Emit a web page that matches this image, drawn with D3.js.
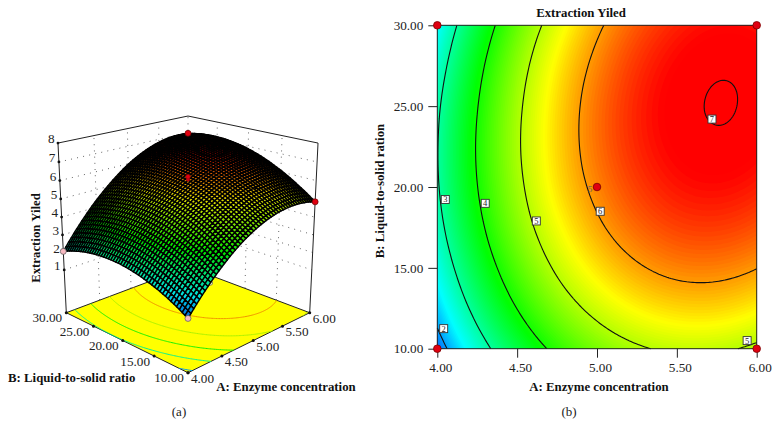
<!DOCTYPE html>
<html><head><meta charset="utf-8">
<script src="https://cdn.jsdelivr.net/npm/d3@7/dist/d3.min.js"></script>
<style>html,body{margin:0;padding:0;background:#fff}svg{display:block}
text{font-family:"Liberation Serif",serif;fill:#222}
.b{font-weight:bold;fill:#111}</style></head><body>
<svg id="c" width="777" height="438" viewBox="0 0 777 438"></svg>
<script>
// Levels of the two factors, and the response.
const enzymeLevels=[4,4.25,4.5,4.75,5,5.25,5.5,5.75,6];
const ratioLevels=[10,12.5,15,17.5,20,22.5,25,27.5,30];
const yieldAtRatio10=[1.75,2.71,3.51,4.15,4.62,4.93,5.08,5.07,4.90];
const yieldAtRatio12=[2.21,3.19,4.01,4.67,5.16,5.49,5.66,5.67,5.51];
const yieldAtRatio15=[2.56,3.56,4.40,5.08,5.59,5.94,6.13,6.15,6.01];
const yieldAtRatio17=[2.81,3.83,4.69,5.38,5.91,6.28,6.49,6.53,6.41];
const yieldAtRatio20=[2.95,3.99,4.86,5.58,6.12,6.51,6.74,6.80,6.70];
const yieldAtRatio22=[2.98,4.04,4.93,5.66,6.23,6.64,6.88,6.96,6.88];
const yieldAtRatio25=[2.91,3.98,4.89,5.64,6.23,6.66,6.92,7.012,6.95];
const yieldAtRatio27=[2.72,3.82,4.75,5.52,6.12,6.57,6.85,6.97,6.92];
const yieldAtRatio30=[2.43,3.55,4.50,5.28,5.91,6.37,6.67,6.81,6.78];
const enzymeTicks=[4,4.5,5,5.5,6];
const ratioTicks=[10,15,20,25,30];
const yieldTicks=[1,2,3,4,5,6,7,8];
const contourLevels=[2,3,4,5,6,7];
// design points: A, B, yield
const designA=[4,6,4,6,5];
const designB=[30,30,10,10,20];
const designY=[2.43,6.79,1.75,4.90,6.12];
// contour-label boxes: level, A, B
const labelLevels=[2,3,4,5,6,7,5];
const labelA=[4.04,4.05,4.30,4.62,5.02,5.72,5.94];
const labelB=[11.24,19.23,18.99,17.9,18.5,24.2,10.5];

const yieldRows=[yieldAtRatio10,yieldAtRatio12,yieldAtRatio15,yieldAtRatio17,yieldAtRatio20,yieldAtRatio22,yieldAtRatio25,yieldAtRatio27,yieldAtRatio30];
const svg=d3.select('#c');
const color=d3.scaleLinear().domain([1.7,2.45,3.9,5.45,6.85]).range(['#0060ff','#00ffff','#00ff00','#ffff00','#ff0000']).clamp(true);

// Smooth display resampling of the read grid (Catmull-Rom between the read values)
function cr(p0,p1,p2,p3,t){return .5*(2*p1+(p2-p0)*t+(2*p0-5*p1+4*p2-p3)*t*t+(3*p1-p0-3*p2+p3)*t*t*t);}
function at(arr,i){const n=arr.length;if(i<0)return 3*arr[0]-3*arr[1]+arr[2];if(i>=n)return 3*arr[n-1]-3*arr[n-2]+arr[n-3];return arr[i];}
function sample1(arr,f){let i=Math.min(Math.floor(f),arr.length-2);return cr(at(arr,i-1),at(arr,i),at(arr,i+1),at(arr,i+2),f-i);}
function field(u,v){ // u,v in 0..1
  const fu=u*(enzymeLevels.length-1),fv=v*(ratioLevels.length-1);
  return sample1(yieldRows.map(r=>sample1(r,fu)),fv);
}
const N=161;const vals=new Float64Array(N*N);
for(let j=0;j<N;j++)for(let i=0;i<N;i++)vals[j*N+i]=field(i/(N-1),j/(N-1));
const contourGen=d3.contours().size([N,N]);
const gu=p=>Math.max(0,Math.min(1,(p-.5)/(N-1)));
function ringPaths(level,fn){ // open lines inside the domain, without border runs
  const gm=contourGen.contour(vals,level);let d='';
  gm.coordinates.forEach(poly=>poly.forEach(ring=>{
    let pen=false;
    const onB=p=>p[0]<=0||p[0]>=N||p[1]<=0||p[1]>=N;
    for(let k=0;k<ring.length-1;k++){
      const a=ring[k],b=ring[k+1];
      if(onB(a)||onB(b)){pen=false;continue;}
      const pa=fn(gu(a[0]),gu(a[1])),pb=fn(gu(b[0]),gu(b[1]));
      if(!pen){d+='M'+pa[0].toFixed(2)+','+pa[1].toFixed(2);pen=true;}
      d+='L'+pb[0].toFixed(2)+','+pb[1].toFixed(2);
    }
  }));
  return d;
}

/* ---------- (b) contour plot ---------- */
const xB=d3.scaleLinear().domain([4,6]).range([437.3,756.7]);
const yB=d3.scaleLinear().domain([10,30]).range([348.7,25.3]);
const gB=svg.append('g');
const bandThr=d3.range(1.7,7.1,0.04);
const bandPath=d3.geoPath(d3.geoTransform({point(x,y){this.stream.point(xB(4+2*gu(x)),yB(10+20*gu(y)));}}));
gB.append('rect').attr('x',xB(4)).attr('y',yB(30)).attr('width',xB(6)-xB(4)).attr('height',yB(10)-yB(30)).attr('fill',color(1.7));
gB.selectAll('path.band').data(contourGen.thresholds(bandThr)(vals)).join('path').attr('class','band')
  .attr('d',bandPath).attr('fill',d=>color(d.value+.02));
gB.selectAll('path.iso').data(contourLevels).join('path').attr('class','iso')
  .attr('d',l=>ringPaths(l,(u,v)=>[xB(4+2*u),yB(10+20*v)]))
  .attr('fill','none').attr('stroke','#111').attr('stroke-width',1.1);
gB.append('rect').attr('x',xB(4)).attr('y',yB(30)).attr('width',xB(6)-xB(4)).attr('height',yB(10)-yB(30)).attr('fill','none').attr('stroke','#222').attr('stroke-width',1);
const axB=gB.append('g').attr('transform',`translate(0,${yB(10)})`).call(d3.axisBottom(xB).tickValues(enzymeTicks).tickFormat(d3.format('.2f')).tickSize(9).tickPadding(5).tickSizeOuter(0));
const ayB=gB.append('g').attr('transform',`translate(${xB(4)},0)`).call(d3.axisLeft(yB).tickValues(ratioTicks).tickFormat(d3.format('.2f')).tickSize(9).tickPadding(5).tickSizeOuter(0));
[axB,ayB].forEach(a=>{a.select('.domain').remove();a.selectAll('line').attr('stroke','#222');a.selectAll('text').style('font-size','13.2px').style('font-family','"Liberation Serif",serif').attr('fill','#222');});
axB.selectAll('text').attr('dx',3);
const lab=gB.selectAll('g.lb').data(labelLevels).join('g').attr('class','lb').attr('transform',(d,i)=>`translate(${xB(labelA[i])},${yB(labelB[i])})`);
lab.append('rect').attr('x',-4).attr('y',-4).attr('width',8).attr('height',8).attr('fill','#fff').attr('stroke','#333').attr('stroke-width',.9);
lab.append('text').text(d=>d).attr('text-anchor','middle').attr('y',3).style('font-size','8.5px');
gB.selectAll('circle.dp').data(designA).join('circle').attr('class','dp')
  .attr('cx',d=>xB(d)).attr('cy',(d,i)=>yB(designB[i])).attr('r',3.8).attr('fill','#e00010').attr('stroke','#7a0000').attr('stroke-width',.8);
gB.append('text').text('5').attr('x',590).attr('y',192).attr('text-anchor','middle').style('font-size','9px').style('fill','#666');
gB.append('text').attr('class','b').text('Extraction Yiled').attr('x',581).attr('y',17).attr('text-anchor','middle').style('font-size','12.8px');
gB.append('text').attr('class','b').text('A: Enzyme concentration').attr('x',599).attr('y',391).attr('text-anchor','middle').style('font-size','12.8px');
gB.append('text').attr('class','b').text('B: Liquid-to-solid ration').attr('transform','translate(384,191) rotate(-90)').attr('text-anchor','middle').style('font-size','12.8px');
gB.append('text').text('(b)').attr('x',569).attr('y',416).attr('text-anchor','middle').style('font-size','13px');

/* ---------- (a) response surface ---------- */
const uS=d3.scaleLinear().domain([4,6]).range([0,1]);
const vS=d3.scaleLinear().domain([10,30]).range([0,1]);
const tAxis=d3.scaleLinear().domain([1,8]).range([.265,1]);
const tSurf=d3.scaleLinear().domain([0,10]).range([.09,1.27]);
function proj(u,v,t){const X=u-v,Y=u+v-1,D=1+.1353*Y-.064*t;return [188+121.7*X/D,(312.7-9.6*Y-178.8*t)/D];}
const gA=svg.append('g');
const line=d3.line();
// walls
const wall=gA.append('g').attr('fill','none').attr('stroke','#666').attr('stroke-width',1).attr('stroke-dasharray','1 5.2');
yieldTicks.slice(0,-1).forEach(z=>{const t=tAxis(z);
  wall.append('path').attr('d',line([proj(0,1,t),proj(1,1,t),proj(1,0,t)]));});
enzymeTicks.slice(1).forEach(a=>{const u=uS(a);wall.append('path').attr('d',line([proj(u,1,0),proj(u,1,1)]));});
ratioTicks.slice(1,-1).forEach(b=>{const v=vS(b);wall.append('path').attr('d',line([proj(1,v,0),proj(1,v,1)]));});
const frame=gA.append('g').attr('fill','none').attr('stroke','#222').attr('stroke-width',1);
frame.append('path').attr('d',line([proj(0,1,0),proj(0,1,1),proj(1,1,1),proj(1,0,1),proj(1,0,0)]));
// floor
gA.append('path').attr('d',line([proj(0,0,0),proj(1,0,0),proj(1,1,0),proj(0,1,0)])+'Z').attr('fill','#ffff00').attr('stroke','#222').attr('stroke-width',1);
gA.selectAll('path.fl').data(contourLevels).join('path').attr('class','fl')
  .attr('d',l=>ringPaths(l,(u,v)=>proj(u,v,0))).attr('fill','none').attr('stroke',l=>d3.color(color(l)).darker(.15)).attr('stroke-width',1);
// small floor marker behind the surface
gA.append('circle').attr('cx',proj(uS(5.82),vS(24.2),0)[0]).attr('cy',proj(uS(5.82),vS(24.2),0)[1]).attr('r',2.2).attr('fill','#f6f0b0').attr('stroke','#666').attr('stroke-width',.7);
// edge ticks
const tk=gA.append('g').attr('fill','#111');
ratioTicks.forEach(b=>{const p=proj(0,vS(b),0);tk.append('circle').attr('cx',p[0]).attr('cy',p[1]).attr('r',1.5);});
enzymeTicks.forEach(a=>{const p=proj(uS(a),0,0);tk.append('circle').attr('cx',p[0]).attr('cy',p[1]).attr('r',1.5);});
yieldTicks.forEach(z=>{const p=proj(0,1,tAxis(z));tk.append('circle').attr('cx',p[0]).attr('cy',p[1]).attr('r',1.4);});
// surface mesh
const M=50,cells=[];
for(let i=0;i<M;i++)for(let j=0;j<M;j++){
  const u0=i/M,u1=(i+1)/M,v0=j/M,v1=(j+1)/M;
  const z00=field(u0,v0),z10=field(u1,v0),z11=field(u1,v1),z01=field(u0,v1);
  cells.push({y:u0+u1+v0+v1,z:(z00+z10+z11+z01)/4,pts:[proj(u0,v0,tSurf(z00)),proj(u1,v0,tSurf(z10)),proj(u1,v1,tSurf(z11)),proj(u0,v1,tSurf(z01))]});
}
cells.sort((a,b)=>b.y-a.y);
gA.append('g').selectAll('path').data(cells).join('path')
  .attr('d',d=>line(d.pts)+'Z').attr('fill',d=>d3.color(color(d.z)).darker(.35)).attr('stroke','#000').attr('stroke-width',1.45).attr('stroke-linejoin','round');
// design points on surface
designA.forEach((a,i)=>{const p=proj(uS(a),vS(designB[i]),tSurf(designY[i]));const low=designY[i]<3;
  gA.append('circle').attr('cx',p[0]).attr('cy',p[1]).attr('r',i==4?2.4:3).attr('fill',low?'#f6b8c0':'#e00010').attr('stroke',low?'#555':'#600').attr('stroke-width',.7);});
const pc=proj(uS(5),vS(20),tSurf(5.98));
gA.append('circle').attr('cx',pc[0]).attr('cy',pc[1]).attr('r',1.9).attr('fill','#c00010');
// labels
const sz='13.2px';
gA.selectAll('text.zt').data(yieldTicks).join('text').attr('class','zt').text(d=>d)
  .attr('x',d=>proj(0,1,tAxis(d))[0]-3.5).attr('y',d=>proj(0,1,tAxis(d))[1]).attr('text-anchor','end').style('font-size',sz);
gA.selectAll('text.bt').data(ratioTicks).join('text').attr('class','bt').text(d3.format('.2f'))
  .attr('x',d=>proj(0,vS(d),0)[0]-19).attr('y',d=>proj(0,vS(d),0)[1]+9.5).attr('text-anchor','middle').style('font-size',sz);
gA.selectAll('text.at').data(enzymeTicks).join('text').attr('class','at').text(d3.format('.2f'))
  .attr('x',d=>proj(uS(d),0,0)[0]+14.5).attr('y',d=>proj(uS(d),0,0)[1]+10).attr('text-anchor','middle').style('font-size',sz);
gA.append('text').attr('class','b').text('Extraction Yiled').attr('transform','translate(40,238) rotate(-90)').attr('text-anchor','middle').style('font-size','12.8px');
gA.append('text').attr('class','b').text('B: Liquid-to-solid ratio').attr('x',71.7).attr('y',382).attr('text-anchor','middle').style('font-size','12.8px');
gA.append('text').attr('class','b').text('A: Enzyme concentration').attr('x',286).attr('y',391).attr('text-anchor','middle').style('font-size','12.8px');
gA.append('text').text('(a)').attr('x',179).attr('y',416).attr('text-anchor','middle').style('font-size','13px');
</script></body></html>
